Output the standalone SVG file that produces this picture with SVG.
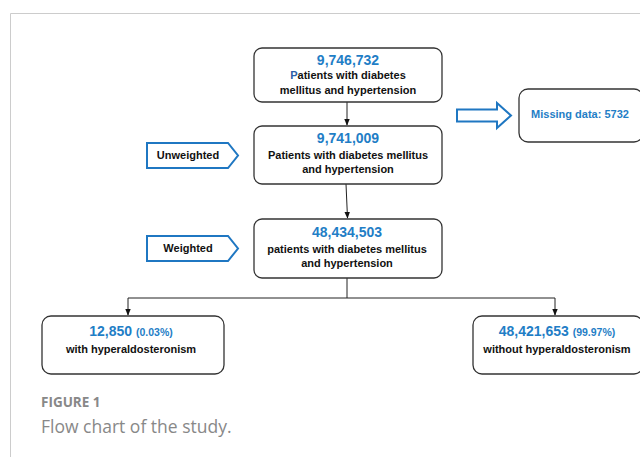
<svg xmlns="http://www.w3.org/2000/svg" width="640" height="457" viewBox="0 0 640 457">
<style>
.box{fill:#fff;stroke:#333;stroke-width:1.3}
.tag{fill:#fff;stroke:#1f77c2;stroke-width:2}
.num{font-family:"Liberation Sans",Arial,sans-serif;font-weight:bold;font-size:14px;fill:#1f7ec6;text-anchor:middle}
.pct{font-size:10.5px}
.lbl{font-family:"Liberation Sans",Arial,sans-serif;font-weight:bold;font-size:11px;fill:#111;text-anchor:middle}
.con{stroke:#222;stroke-width:1;fill:none}
</style>
<defs>
<marker id="ah" viewBox="0 0 10 10" refX="9" refY="5" markerWidth="7" markerHeight="7" orient="auto"><path d="M0,1 L10,5 L0,9 z" fill="#111"/></marker>
</defs>
<path d="M640 13.5 H10.5 V457" fill="none" stroke="#ccc" stroke-width="1"/>
<g id="connectors">
<line class="con" x1="347" y1="102" x2="347" y2="125" marker-end="url(#ah)"/>
<line class="con" x1="346" y1="184" x2="347.5" y2="218" marker-end="url(#ah)"/>
<line class="con" x1="347" y1="278" x2="347" y2="298"/>
<polyline class="con" points="128,298 555,298 555,315" marker-end="url(#ah)"/>
<line class="con" x1="128" y1="298" x2="128" y2="315" marker-end="url(#ah)"/>
<path d="M457,109.5 H497 V103 L511,115.5 L497,128 V121.5 H457 Z" fill="#fff" stroke="#1f77c2" stroke-width="2"/>
</g>
<g id="n1">
<rect class="box" x="254" y="48" width="188" height="54" rx="8"/>
<text class="num" x="348" y="65">9,746,732</text>
<text class="lbl" x="348" y="79"><tspan fill="#2b5fa8">P</tspan>atients with diabetes</text>
<text class="lbl" x="348" y="94">mellitus and hypertension</text>
</g>
<g id="n2">
<rect class="box" x="254" y="126" width="188" height="58" rx="8"/>
<text class="num" x="348" y="143">9,741,009</text>
<text class="lbl" x="348" y="159">Patients with diabetes mellitus</text>
<text class="lbl" x="348" y="173">and hypertension</text>
</g>
<g id="n3">
<rect class="box" x="254" y="219" width="188" height="59" rx="8"/>
<text class="num" x="347" y="237">48,434,503</text>
<text class="lbl" x="347" y="253">patients with diabetes mellitus</text>
<text class="lbl" x="347" y="267">and hypertension</text>
</g>
<g id="n4">
<rect class="box" x="42" y="316" width="182" height="58" rx="9"/>
<text class="num" x="131" y="336">12,850 <tspan class="pct">(0.03%)</tspan></text>
<text class="lbl" x="131" y="353">with hyperaldosteronism</text>
</g>
<g id="n5">
<rect class="box" x="473" y="316" width="170" height="58" rx="9"/>
<text class="num" x="557" y="336">48,421,653 <tspan class="pct">(99.97%)</tspan></text>
<text class="lbl" x="557" y="353">without hyperaldosteronism</text>
</g>
<g id="missing">
<rect class="box" x="519" y="89" width="124" height="53" rx="9"/>
<text class="num" x="580" y="118" style="font-size:11px">Missing data: 5732</text>
</g>
<g id="unweighted">
<path class="tag" d="M147,143 H228 L238,155.5 L228,168 H147 Z"/>
<text class="lbl" x="188" y="159">Unweighted</text>
</g>
<g id="weighted">
<path class="tag" d="M147,236 H228 L238,248.5 L228,261 H147 Z"/>
<text class="lbl" x="188" y="252">Weighted</text>
</g>
<g id="caption">
<text x="41" y="407" font-family="'Open Sans','Liberation Sans',sans-serif" font-weight="bold" font-size="13.5" fill="#888">FIGURE 1</text>
<text x="41" y="433" font-family="'Open Sans','Liberation Sans',sans-serif" font-size="17.5" fill="#888">Flow chart of the study.</text>
</g>
</svg>
